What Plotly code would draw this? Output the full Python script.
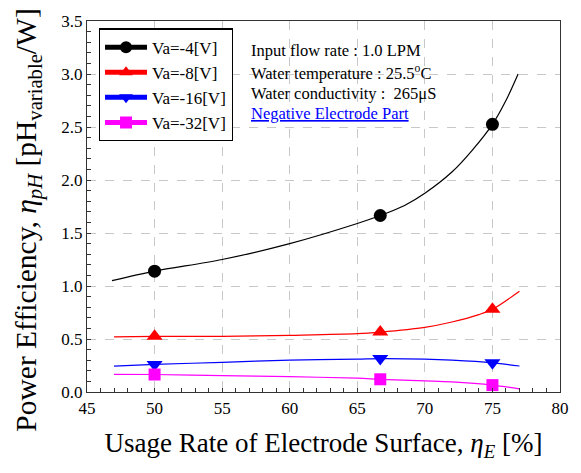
import plotly.graph_objects as go

# Curve data
curve_x = {
    "k": [46.85, 50, 55, 60, 65, 66.7, 68.5, 70, 72, 73.5, 75, 76, 76.9],
    "r": [47, 50, 55, 60, 65, 66.7, 70, 72, 74, 75, 77],
    "b": [47, 50, 55, 60, 65, 66.7, 70, 72, 75, 77],
    "m": [47, 50, 55, 60, 65, 66.7, 70, 72, 75, 77],
}
curve_y = {
    "k": [1.05, 1.14, 1.25, 1.40, 1.59, 1.665, 1.76, 1.875, 2.075, 2.28, 2.525, 2.75, 3.0],
    "r": [0.52, 0.525, 0.525, 0.535, 0.55, 0.565, 0.61, 0.66, 0.73, 0.78, 0.95],
    "b": [0.245, 0.26, 0.28, 0.30, 0.31, 0.315, 0.31, 0.30, 0.275, 0.245],
    "m": [0.167, 0.165, 0.155, 0.145, 0.13, 0.12, 0.105, 0.095, 0.065, 0.03],
}
marker_x = [50, 66.7, 75]
names = ["Va=-4[V]", "Va=-8[V]", "Va=-16[V]", "Va=-32[V]"]
keys = ["k", "r", "b", "m"]
colors = ["black", "red", "blue", "magenta"]
symbols = ["circle", "triangle-up", "triangle-down", "square"]
msizes = [13, 14, 14, 12]

x_ticks = [45, 50, 55, 60, 65, 70, 75, 80]
y_ticks = [0.0, 0.5, 1.0, 1.5, 2.0, 2.5, 3.0, 3.5]

fig = go.Figure()
for k, n, c, s, ms in zip(keys, names, colors, symbols, msizes):
    xs = curve_x[k]
    ys = curve_y[k]
    sizes = [ms if x in marker_x else 0 for x in xs]
    fig.add_trace(go.Scatter(
        x=xs, y=ys, name=n, mode="lines+markers",
        line=dict(color=c, width=1.2, shape="spline", smoothing=0.9),
        marker=dict(color=c, symbol=s, size=sizes, opacity=1,
                    line=dict(width=0, color=c)),
    ))

serif = "Liberation Serif"
fig.update_layout(
    width=581, height=473,
    margin=dict(l=87, r=16, t=15, b=81),
    paper_bgcolor="white", plot_bgcolor="white",
    font=dict(family=serif, color="black", size=16),
    showlegend=True,
    legend=dict(
        x=0.025, y=0.98, xanchor="left", yanchor="top",
        bordercolor="black", borderwidth=1.2, bgcolor="white",
        font=dict(family=serif, size=17), itemsizing="constant",
        tracegroupgap=0, itemwidth=42,
    ),
    xaxis=dict(
        range=[45, 80], tickvals=x_ticks, ticktext=[str(v) for v in x_ticks],
        showgrid=True, gridcolor="#c8c8c8", griddash="dash", gridwidth=1,
        showline=True, linecolor="#333", linewidth=1.3, mirror=True,
        ticks="inside", ticklen=0, zeroline=False,
        minor=dict(dtick=1, ticks="inside", ticklen=4, tickcolor="#333", showgrid=False),
        tickfont=dict(family=serif, size=17),
        title=dict(text="Usage Rate of Electrode Surface, <i>η<sub>E</sub></i> [%]",
                   font=dict(family=serif, size=27), standoff=16),
    ),
    yaxis=dict(
        range=[0, 3.5], tickvals=y_ticks, ticktext=["%.1f" % v for v in y_ticks],
        showgrid=True, gridcolor="#c8c8c8", griddash="dash", gridwidth=1,
        showline=True, linecolor="#333", linewidth=1.3, mirror=True,
        ticks="inside", ticklen=0, zeroline=False,
        minor=dict(dtick=0.1, ticks="inside", ticklen=4, tickcolor="#333", showgrid=False),
        tickfont=dict(family=serif, size=17),
    ),
)

# y-axis title as a rotated annotation (placed slightly below plot centre as in reference)
fig.add_annotation(
    x=-0.123, y=0.464, xref="paper", yref="paper",
    text="Power Efficiency, <i>η<sub>pH</sub></i> [pH<sub>variable</sub>/W]",
    textangle=-90, showarrow=False, xanchor="center", yanchor="middle",
    font=dict(family=serif, size=29.5, color="black"),
)

notes = [
    "Input flow rate : 1.0 LPM",
    "Water temperature : 25.5<sup>o</sup>C",
    "Water conductivity :  265μS",
    "<span style='text-decoration:underline'>Negative Electrode Part</span>",
]
note_colors = ["black", "black", "black", "blue"]
note_y = [0.92, 0.861, 0.805, 0.752]
for t, c, yy in zip(notes, note_colors, note_y):
    fig.add_annotation(x=0.343, y=yy, xref="paper", yref="paper", text=t,
                       showarrow=False, xanchor="left", yanchor="middle",
                       font=dict(family=serif, size=16.5, color=c))

fig.write_html("out.html")
